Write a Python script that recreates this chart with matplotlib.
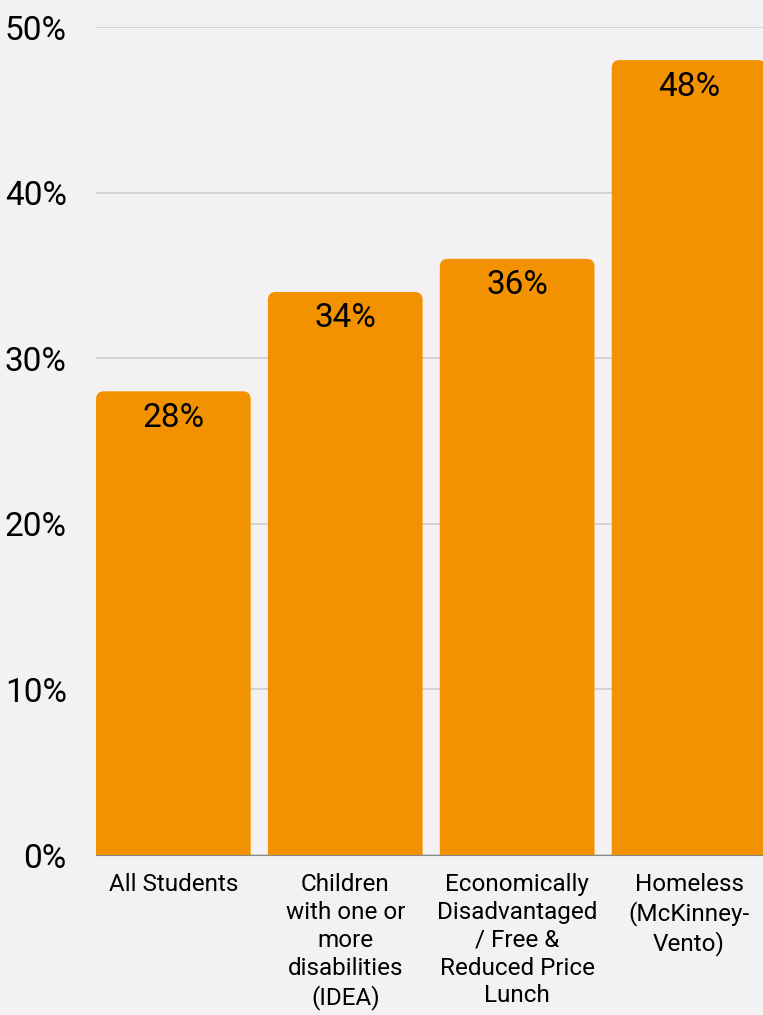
import matplotlib.pyplot as plt
from matplotlib.patches import FancyBboxPatch

categories = ["All Students",
              "Children\nwith one or\nmore\ndisabilities\n(IDEA)",
              "Economically\nDisadvantaged\n/ Free &\nReduced Price\nLunch",
              "Homeless\n(McKinney-\nVento)"]
values = [28, 34, 36, 48]
yticks = [0, 10, 20, 30, 40, 50]

bg = "#F3F1F2"
orange = "#F29200"
plt.rcParams['font.family'] = ['Roboto', 'DejaVu Sans']

fig = plt.figure(figsize=(7.63, 10.15), dpi=100, facecolor=bg)
ax = fig.add_axes([96/763, (1015-855)/1015, (763-96)/763, 828/1015])
ax.set_facecolor(bg)

w = 0.9
xmin, xmax = -0.45, 3.43
ax.set_xlim(xmin, xmax)
ax.set_ylim(0, 50)

# px per unit, for round corners that look circular
px_x = 667 / (xmax - xmin)
px_y = 828 / 50
r = 8 / px_x
for i, v in enumerate(values):
    p = FancyBboxPatch((i - w/2, -2), w, v + 2,
                       boxstyle="round,pad=0,rounding_size=%f" % r,
                       mutation_aspect=px_x/px_y,
                       fc=orange, ec="none", zorder=3)
    ax.add_patch(p)
    ax.annotate("%d%%" % v, (i, v), xytext=(0, -19), textcoords="offset points",
                ha="center", va="center", fontsize=24, color="black", zorder=4)

ax.set_yticks(yticks)
ax.set_yticklabels(["%d%%" % t for t in yticks], fontsize=24)
ax.set_xticks(range(len(categories)))
ax.set_xticklabels(categories, fontsize=17.5, linespacing=1.27, va="top")
ax.tick_params(axis="y", length=0, pad=21)
ax.tick_params(axis="x", length=0, pad=13)
ax.yaxis.grid(True, color="#CCCCCC", lw=1.2, zorder=0)
ax.set_axisbelow(True)
for s in ["top", "right", "left"]:
    ax.spines[s].set_visible(False)
ax.spines["bottom"].set_color("#888888")
ax.spines["bottom"].set_zorder(2)

fig.savefig("out.png", dpi=100, facecolor=bg)
